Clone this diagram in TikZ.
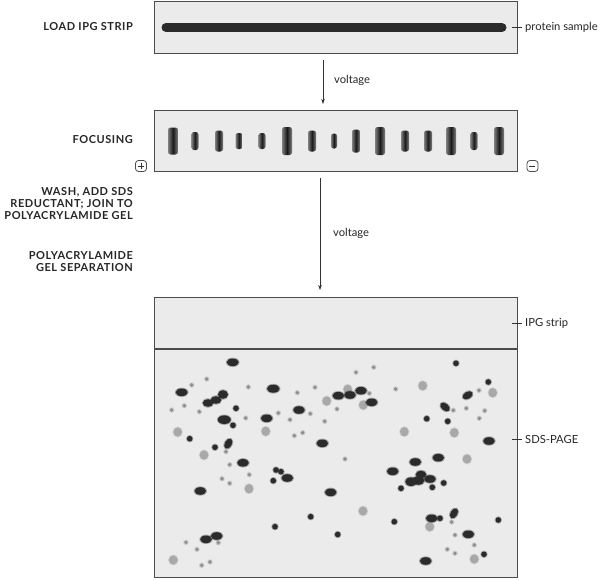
\documentclass[tikz,border=0pt]{standalone}
\usepackage{fontspec}
\setmainfont{Lato}
\usetikzlibrary{arrows.meta}
\definecolor{boxfill}{gray}{0.92}
\definecolor{boxline}{gray}{0.30}
\definecolor{spotdark}{gray}{0.17}
\definecolor{spotlight}{gray}{0.66}
\definecolor{spotsmall}{gray}{0.55}
\newcommand\gspot[5]{%
  \fill[#5,opacity=.35] (#1,#2) ellipse[x radius=#3+0.9, y radius=#4+0.9];
  \fill[#5] (#1,#2) ellipse[x radius=#3, y radius=#4];}
\newcommand\rspot[6]{%
  \fill[#5,opacity=.35,shift={(#1,#2)},rotate=#6] (0,0) ellipse[x radius=#3+0.9, y radius=#4+0.9];
  \fill[#5,shift={(#1,#2)},rotate=#6] (0,0) ellipse[x radius=#3, y radius=#4];}
\begin{document}
\begin{tikzpicture}[x=1pt,y=-1pt,
  gbox/.style={draw=boxline, fill=boxfill, line width=1pt, inner sep=0pt, outer sep=0pt, minimum width=363pt},
  lab/.style={font=\bfseries\fontsize{11}{11.6}\selectfont\addfontfeature{LetterSpace=5}, align=right, anchor=east, inner sep=0pt, text=black!85},
  side/.style={font=\fontsize{11.2}{12}\selectfont, anchor=west, inner sep=0pt, text=black!85},
  arr/.style={draw=black!80, line width=0.6pt, -{Stealth[length=5pt,width=3.5pt]}},
  tick/.style={draw=black!80, line width=0.7pt},
  pm/.style={draw=black!70, line width=0.8pt, rounded corners=3pt, minimum size=11pt, inner sep=0pt}]
\useasboundingbox (0,0) rectangle (600,579);
\fill[white] (0,0) rectangle (600,579);

% boxes
\node[gbox, minimum height=52pt] (box1) at (335.5,27) {};
\node[gbox, minimum height=60.5pt] (box2) at (335.5,140.75) {};
\node[gbox, minimum height=228pt] (gel) at (335.5,463) {};
\node[gbox, minimum height=52pt] (ipg) at (335.5,323) {};
\draw[boxline, line width=1.4pt] (ipg.south west) -- (ipg.south east);

% protein sample strip
\draw[spotdark, line width=9pt, line cap=round] (166,27.5) -- (502,27.5);

% focusing bands
\foreach \x/\h/\w in {173/27/10, 195/18/7, 219/21/8, 239/16/7, 262/16/7, 287/28/10, 312/21/8, 334/15/6, 356/23/8, 380/28/10, 405/21/8, 428/21/8, 451/28/10, 474/18/7, 499/28/10}{
  \shade[left color=black!50, right color=black!50, middle color=black!90, rounded corners=2.5pt]
    (\x-\w/2,141-\h/2) rectangle (\x+\w/2,141+\h/2);
}

% plus / minus
\node[pm] (plus) at (141,166) {};
\draw[black!80, line width=0.9pt] (plus.west) ++(2.5,0) -- ++(6,0) (plus.north) ++(0,2.5) -- ++(0,6);
\node[pm] (minus) at (532.5,166) {};
\draw[black!80, line width=0.9pt] (minus.west) ++(2.5,0) -- ++(6,0);

% left labels
\node[lab] (l1) at (133,27) {LOAD IPG STRIP};
\node[lab] (l2) at (133,140) {FOCUSING};
\node[lab] (l3) at (133,203.5) {WASH, ADD SDS\\REDUCTANT; JOIN TO\\POLYACRYLAMIDE GEL};
\node[lab] (l4) at (133,261.5) {POLYACRYLAMIDE\\GEL SEPARATION};

% arrows
\coordinate (a1s) at (323,60);
\coordinate (a1e) at (323,104);
\draw[arr] (a1s) -- (a1e);
\node[side] (v1) at (334,80) {voltage};
\coordinate (a2s) at (320,178);
\coordinate (a2e) at (320,290);
\draw[arr] (a2s) -- (a2e);
\node[side] (v2) at (333,233) {voltage};

% right labels
\node[side] (ps) at (525,27.5) {protein sample};
\coordinate (t1) at (512,27.5);
\draw[tick] (t1) -- ([xshift=-3pt]ps.west);
\node[side] (ipgl) at (525,323) {IPG strip};
\coordinate (t2) at (512,323);
\draw[tick] (t2) -- ([xshift=-3pt]ipgl.west);
\node[side] (sds) at (525,439) {SDS-PAGE};
\coordinate (t3) at (512,439);
\draw[tick] (t3) -- ([xshift=-3pt]sds.west);

% light spots
\foreach \x/\y in {326.7/401, 177.7/432, 265.7/431.3, 204/455, 422.7/385.7, 492.7/392.7, 347.7/389.3, 363.3/405, 404.3/431.7, 454.3/432.7, 467/459, 249/488.7, 173.3/560, 363/511, 429.7/526.7, 474.3/559}{
  \gspot{\x}{\y}{4.3}{4.6}{spotlight}
}
% small spots
\foreach \x/\y in {206.7/379, 191.7/385, 248.3/387, 297.3/392.7, 315/387.3, 337/409, 184.3/405.7, 171.7/410, 199.3/411.7, 310.3/413.7, 278.3/413, 245.7/418, 290/419.7, 324.7/421.3, 302.7/432.7, 294.3/435.7, 226/451.7, 356/372.3, 373.7/367.3, 395.7/389, 479/390.3, 369.3/393.3, 453.3/410.3, 466.3/408.3, 484.7/410.7, 479.3/418.3, 345/459, 229.7/464.7, 249.3/474.7, 222/478.7, 229.7/483.3, 218.3/542.7, 186/542.3, 197/549.3, 210/562, 201.7/565.3, 451.7/522, 455/535, 474.3/545, 447.3/549.3, 455/553.3}{
  \gspot{\x}{\y}{1.8}{1.8}{spotsmall}
}
% dark ellipses
\foreach \x/\y/\a/\b in {232.7/362.3/6/3.8, 181.7/392.3/6/3.8, 273.3/388.7/6.3/4, 338.3/395.7/5.8/3.8, 350/395/5.8/3.8, 361/390.7/5.8/3.8, 371.7/402.3/5.8/3.8, 299/410/5.8/3.8, 224.3/419.7/6.5/4.3, 266.7/418.3/5.8/3.8, 322.3/443.3/5.8/3.8, 243/462.8/5.8/3.8, 287.3/478/5.8/3.8, 200.3/491/5.8/3.8, 330.7/492.3/5.8/3.8, 216.7/536/5.8/3.8, 206/539.3/5.8/3.8, 392.7/471.3/5.8/3.8, 415.3/462/5.8/3.8, 438.3/457.7/5.8/3.8, 489/441/5.8/3.8, 431.7/518.3/5.8/3.8, 468.3/534.3/5.8/3.8, 425.7/561/5.8/3.8, 223/394.5/5/4.3, 216/400/5.3/3.8, 208/403/5.3/3.8, 411/481.7/5.8/4.3, 421/474.5/5.3/3.8, 430/479/5.8/3.8, 418.5/480.5/5.8/4.3}{
  \gspot{\x}{\y}{\a}{\b}{spotdark}
}
% tilted dark ellipses
\rspot{228.3}{443.7}{5.5}{3.5}{spotdark}{60}
\rspot{467.7}{395.3}{5.5}{3.5}{spotdark}{30}
\rspot{445}{407}{5.5}{3.5}{spotdark}{-40}
\rspot{454}{513.3}{5.5}{3.5}{spotdark}{60}
% dark round spots
\foreach \x/\y in {236/408.3, 233/425.3, 189.7/438.7, 215/447.3, 456/363.3, 488.3/382, 426.7/418.7, 447.7/421.3, 276/470, 281/471.7, 273.3/480.7, 310.7/516.7, 275/526.7, 337.7/534.5, 401/488.3, 432.3/487.3, 443.7/483, 394.3/521.7, 440/518.3, 498.3/520, 484/554.3}{
  \gspot{\x}{\y}{2.8}{2.8}{spotdark}
}
\end{tikzpicture}
\end{document}
